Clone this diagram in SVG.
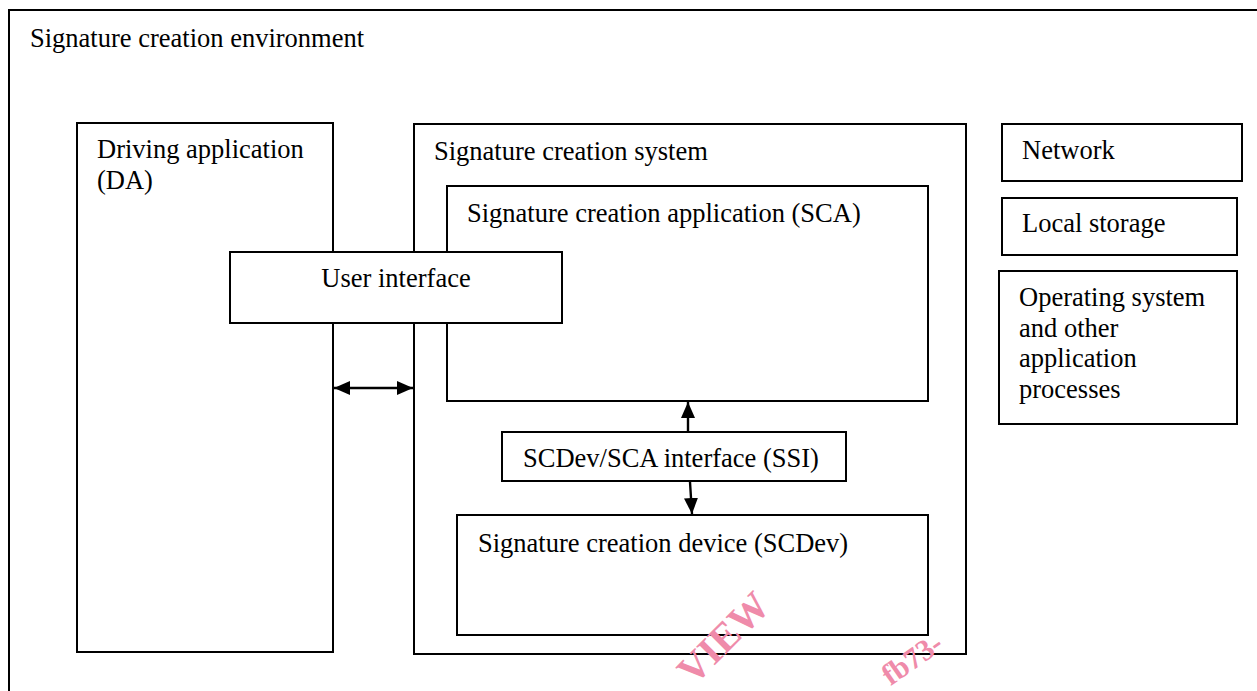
<svg xmlns="http://www.w3.org/2000/svg" width="1257" height="691" viewBox="0 0 1257 691">
<style>
.box{fill:#fff;stroke:#000;stroke-width:2}
.t{font-family:"Liberation Serif","Times New Roman",serif;font-size:26.5px;fill:#000}
.wm{font-family:"Liberation Serif","Times New Roman",serif;font-weight:bold;fill:#EF8BAA}
.c{stroke:#000;stroke-width:2.4;fill:none}
</style>
<defs>
<marker id="ah" viewBox="0 0 16 14" refX="16" refY="7" markerWidth="16" markerHeight="14" markerUnits="userSpaceOnUse" orient="auto-start-reverse">
<path d="M0,0 L16,7 L0,14 Z" fill="#000"/>
</marker>
</defs>
<rect width="1257" height="691" fill="#fff"/>
<g id="env">
<rect class="box" x="9" y="10" width="1260" height="700"/>
<text class="t" x="30" y="47">Signature creation environment</text>
</g>
<g id="da">
<rect class="box" x="77" y="123" width="256" height="529"/>
<text class="t" x="97" y="158">Driving application</text>
<text class="t" x="97" y="189">(DA)</text>
</g>
<g id="scs">
<rect class="box" x="414" y="124" width="552" height="530"/>
<text class="t" x="434" y="160">Signature creation system</text>
</g>
<g id="sca">
<rect class="box" x="447" y="186" width="481" height="215"/>
<text class="t" x="467" y="222">Signature creation application (SCA)</text>
</g>
<g id="ui">
<rect class="box" x="230" y="252" width="332" height="71"/>
<text class="t" x="396" y="287" text-anchor="middle">User interface</text>
</g>
<g id="ssi">
<rect class="box" x="502" y="432" width="344" height="49"/>
<text class="t" x="523" y="467">SCDev/SCA interface (SSI)</text>
</g>
<g id="scdev">
<rect class="box" x="457" y="515" width="471" height="120"/>
<text class="t" x="478" y="552">Signature creation device (SCDev)</text>
</g>
<g id="network">
<rect class="box" x="1002" y="124" width="240" height="57"/>
<text class="t" x="1022" y="159">Network</text>
</g>
<g id="storage">
<rect class="box" x="1002" y="198" width="235" height="57"/>
<text class="t" x="1022" y="232">Local storage</text>
</g>
<g id="os">
<rect class="box" x="999" y="271" width="238" height="153"/>
<text class="t" x="1019" y="306">Operating system</text>
<text class="t" x="1019" y="337">and other</text>
<text class="t" x="1019" y="367">application</text>
<text class="t" x="1019" y="398">processes</text>
</g>
<g id="connectors">
<line class="c" x1="334" y1="388" x2="413" y2="388" marker-start="url(#ah)" marker-end="url(#ah)"/>
<line class="c" x1="688" y1="431" x2="688" y2="402" marker-end="url(#ah)"/>
<line class="c" x1="690" y1="482" x2="692" y2="514" marker-end="url(#ah)"/>
</g>
<g id="watermark">
<text class="wm" font-size="40" transform="translate(772,608) rotate(-45)" text-anchor="end">VIEW</text>
<text class="wm" font-size="30" transform="translate(945,648) rotate(-35)" text-anchor="end">fb73-</text>
</g>
</svg>
